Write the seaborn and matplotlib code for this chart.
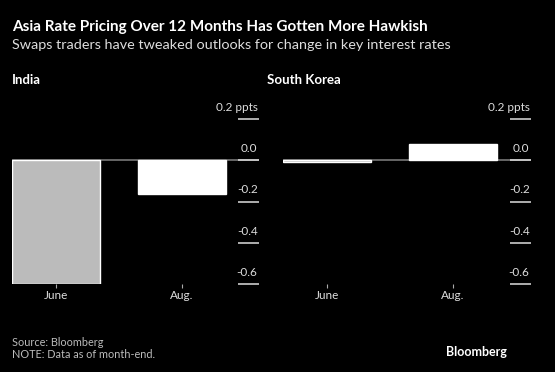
import numpy as np
import matplotlib
matplotlib.use("Agg")
import matplotlib.pyplot as plt
import matplotlib.transforms as mtransforms
import seaborn as sns

months = ["June", "Aug."]
india = [-0.60, -0.16]
korea = [-0.008, 0.08]
y_ticks = [0.2, 0.0, -0.2, -0.4, -0.6]
y_labels = ["0.2 ppts", "0.0", "-0.2", "-0.4", "-0.6"]
bar_colors = ["#bbbbbb", "#ffffff"]

sns.set_theme(style="dark")
plt.rcParams["font.family"] = ["Lato", "DejaVu Sans"]

fig = plt.figure(figsize=(5.55, 3.72), dpi=100, facecolor="black")

def panel(ax, values, xlim):
    ax.set_facecolor("black")
    ax.axhline(0, color="#777777", lw=1.2, zorder=0.5)
    sns.barplot(x=months, y=values, hue=months, palette=bar_colors,
                width=0.7, legend=False, ax=ax, zorder=2, saturation=1)
    ax.set_xlim(*xlim)
    ax.set_ylim(-0.6, 0.25)
    for s in ax.spines.values():
        s.set_visible(False)
    ax.grid(False)
    ax.set_xlabel("")
    ax.set_ylabel("")
    ax.yaxis.tick_right()
    ax.set_yticks(y_ticks)
    ax.set_yticklabels(y_labels)
    ax.tick_params(axis="y", left=False, right=True, labelleft=False, labelright=True,
                   direction="in", length=15, width=1.1,
                   color="#dddddd", labelcolor="#dddddd", labelsize=8.5, pad=-1)
    ax.tick_params(axis="x", bottom=True, direction="out", length=3, width=0.8,
                   color="#aaaaaa", labelcolor="#dddddd", labelsize=8.5, pad=1)
    off = mtransforms.ScaledTranslation(0, 6 / 72, fig.dpi_scale_trans)
    for t in ax.get_yticklabels():
        t.set_ha("right")
        t.set_va("baseline")
        t.set_transform(t.get_transform() + off)

ax1 = fig.add_axes([12 / 555, 0.2357, 247 / 555, 0.4716])
panel(ax1, india, (-0.35, 1.61))
ax2 = fig.add_axes([283.3 / 555, 0.2357, 247.7 / 555, 0.4716])
panel(ax2, korea, (-0.35, 1.62))

fig.text(12 / 555, 1 - 27 / 372, "Asia Rate Pricing Over 12 Months Has Gotten More Hawkish",
         color="white", fontsize=11.0, fontweight="bold", va="center")
fig.text(12 / 555, 1 - 45 / 372, "Swaps traders have tweaked outlooks for change in key interest rates",
         color="#dddddd", fontsize=10.4, va="center")
fig.text(12 / 555, 1 - 80 / 372, "India", color="white", fontsize=9.5,
         fontweight="bold", va="center")
fig.text(267 / 555, 1 - 80 / 372, "South Korea", color="white", fontsize=9.5,
         fontweight="bold", va="center")
fig.text(12 / 555, 1 - 342 / 372, "Source: Bloomberg", color="#bbbbbb",
         fontsize=7.8, va="center")
fig.text(12 / 555, 1 - 355 / 372, "NOTE: Data as of month-end.", color="#bbbbbb",
         fontsize=7.8, va="center")
fig.text(507 / 555, 1 - 352 / 372, "Bloomberg", color="white", fontsize=9,
         fontweight="bold", va="center", ha="right")

fig.savefig("out.png", dpi=100, facecolor="black")
